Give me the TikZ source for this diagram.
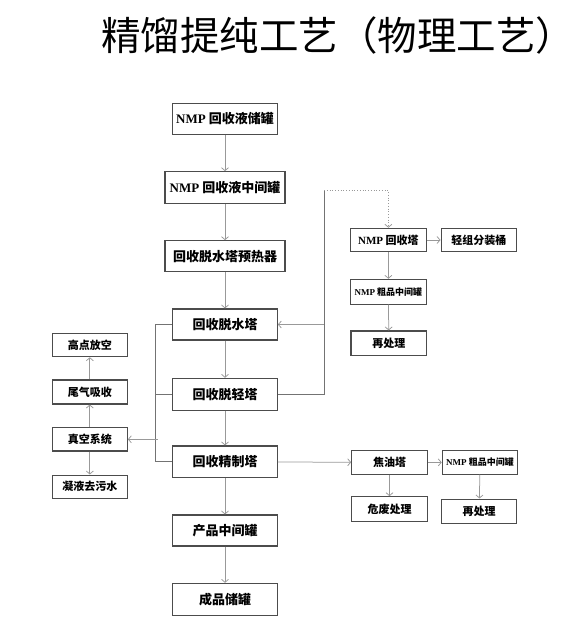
\documentclass[tikz,border=0pt]{standalone}
\usepackage{fontspec}
\newfontfamily\hei{Noto Sans CJK SC}
\newfontfamily\lat{Liberation Serif}
\newcommand{\nmp}{{\lat\bfseries NMP}}
\usetikzlibrary{arrows.meta}
\tikzset{every picture/.style={line width=0.75pt}}
\tikzset{
  box/.style={draw=black!70,line width=1.1pt,inner sep=0pt,font=\hei\bfseries\fontsize{13}{13}\selectfont},
  sbox/.style={box,font=\hei\bfseries\fontsize{11}{11}\selectfont},
  tiny/.style={font=\hei\bfseries\fontsize{9}{9}\selectfont},
  flow/.style={draw=black!40,-{Straight Barb[length=3pt,width=7pt]}},
  link/.style={draw=black!55}
}

\begin{document}
\begin{tikzpicture}[x=1pt,y=-1pt]
    \useasboundingbox (0,0) rectangle (574,620);
    \node[font=\hei\fontsize{39.5}{39.5}\selectfont] (title) at (338,35) {精馏提纯工艺（物理工艺）};
    % main column
    \node[box,minimum width=104.6pt,minimum height=31pt] (tankA) at (225,118.8) {\nmp\ 回收液储罐};
    \node[box,minimum width=120pt,minimum height=31.6pt] (midA) at (225,187.5) {\nmp\ 回收液中间罐};
    \node[box,minimum width=120pt,minimum height=31pt] (preheat) at (225,256.2) {回收脱水塔预热器};
    \node[box,minimum width=104.6pt,minimum height=31pt] (dewater) at (225,324.5) {回收脱水塔};
    \node[box,minimum width=104.6pt,minimum height=31.7pt] (delight) at (225,394.2) {回收脱轻塔};
    \node[box,minimum width=104.6pt,minimum height=31.7pt] (refine) at (225,461.8) {回收精制塔};
    \node[box,minimum width=104.6pt,minimum height=31pt] (product) at (225,530.5) {产品中间罐};
    \node[box,minimum width=104.6pt,minimum height=31.7pt] (store) at (225,599.2) {成品储罐};
    % vacuum side
    \node[sbox,minimum width=75pt,minimum height=23.4pt] (vent) at (89.8,345) {高点放空};
    \node[sbox,minimum width=75pt,minimum height=24pt] (absorb) at (89.8,392) {尾气吸收};
    \node[sbox,minimum width=75pt,minimum height=23.3pt] (vacuum) at (89.8,439.3) {真空系统};
    \node[sbox,minimum width=75pt,minimum height=23.3pt] (waste) at (89.8,486.7) {凝液去污水};
    % recovery column
    \node[sbox,minimum width=75.3pt,minimum height=23.4pt] (nmpcol) at (388.4,240) {\nmp\ 回收塔};
    \node[sbox,minimum width=75.7pt,minimum height=23.4pt] (lightA) at (478.9,240) {轻组分装桶};
    \node[sbox,tiny,minimum width=75.3pt,minimum height=24.7pt] (crudeA) at (388.4,291.7) {\nmp\ 粗品中间罐};
    \node[sbox,minimum width=75.7pt,minimum height=24.7pt] (reprocA) at (388.8,343.3) {再处理};
    % tar column
    \node[sbox,minimum width=75.6pt,minimum height=23.3pt] (tar) at (389.5,462.4) {焦油塔};
    \node[sbox,tiny,minimum width=75.4pt,minimum height=23.3pt] (crudeB) at (480,462.4) {\nmp\ 粗品中间罐};
    \node[sbox,minimum width=75.6pt,minimum height=25pt] (hazard) at (389.5,509.2) {危废处理};
    \node[sbox,minimum width=75pt,minimum height=24.3pt] (reprocB) at (479.2,511.2) {再处理};

    \draw[flow] (tankA) -- (midA);
    \draw[flow] (midA) -- (preheat);
    \draw[flow] (preheat) -- (dewater);
    \draw[flow] (dewater) -- (delight);
    \draw[flow] (delight) -- (refine);
    \draw[flow] (refine) -- (product);
    \draw[flow] (product) -- (store);

    \coordinate (lmid) at (155.7,394.2);
    \coordinate (lbot) at (155.7,461.8);
    \coordinate (lvac) at (157.5,439.3);
    \draw[link] (dewater.west) -| (lbot) -- (refine.west);
    \draw[link] (delight.west) -- (lmid);
    \draw[flow] (lvac) -- (vacuum.east);
    \draw[flow] (vacuum) -- (absorb);
    \draw[flow] (absorb) -- (vent);
    \draw[flow] (vacuum) -- (waste);

    \coordinate (rtop) at (324,190.5);
    \coordinate (rmid) at (324,324.5);
    \draw[link] (delight.east) -| (rtop);
    \draw[flow] (rmid) -- (dewater.east);
    \draw[flow,dotted] (rtop) -| (nmpcol.north);
    \draw[flow] (nmpcol) -- (lightA);
    \draw[flow] (nmpcol) -- (crudeA);
    \draw[flow] (crudeA) -- (reprocA);

    \draw[flow] (refine) -- (tar);
    \draw[flow] (tar) -- (crudeB);
    \draw[flow] (tar) -- (hazard);
    \draw[flow] (crudeB) -- (reprocB);
\end{tikzpicture}
\end{document}
